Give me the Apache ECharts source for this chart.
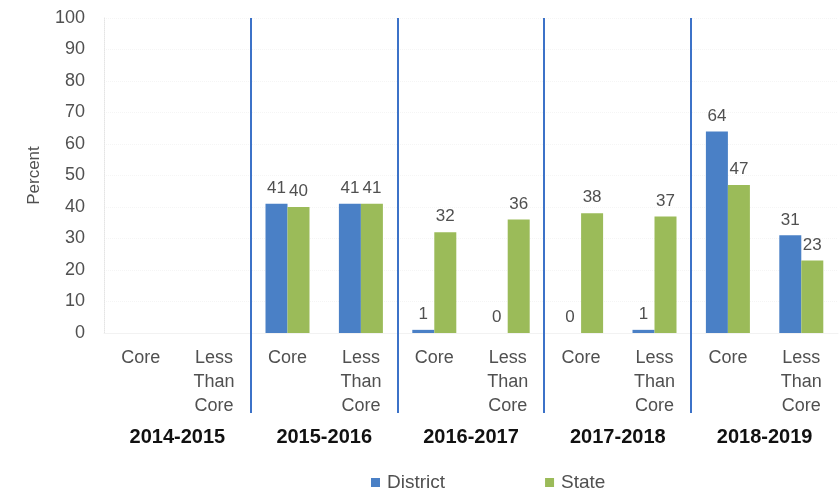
<!DOCTYPE html>
<html><head><meta charset="utf-8">
<script src="https://cdn.jsdelivr.net/npm/echarts@6/dist/echarts.min.js"></script>
<style>html,body{margin:0;padding:0;background:#fff}#c{width:840px;height:489px}</style>
</head><body><div id="c"></div>
<script>
const categories = ['Core','Less\nThan\nCore','Core','Less\nThan\nCore','Core','Less\nThan\nCore','Core','Less\nThan\nCore','Core','Less\nThan\nCore'];
const years = ['2014-2015','2015-2016','2016-2017','2017-2018','2018-2019'];
const district = [null, null, 41, 41, 1, 0, 0, 1, 64, 31];
const state = [null, null, 40, 41, 32, 36, 38, 37, 47, 23];
const yTicks = {min:0, max:100, interval:10};

const chart = echarts.init(document.getElementById('c'));
const font = 'Liberation Sans, Arial, sans-serif';
const lbl = {show:true, position:'top', color:'#505050', fontSize:17, fontFamily:font, distance:7};
chart.setOption({
  animation:false,
  grid:{left:104, right:2, top:18, bottom:156},
  legend:{data:['District','State'], left:366, top:468, itemWidth:9, itemHeight:9, itemGap:100,
    icon:'rect', textStyle:{fontSize:19, color:'#505050', fontFamily:font, padding:[0,0,0,2]}},
  xAxis:[{type:'category', data:categories, position:'bottom',
    axisLine:{show:true, lineStyle:{color:'#f2f2f2'}}, axisTick:{show:false},
    axisLabel:{interval:0, color:'#505050', fontSize:18, fontFamily:font, lineHeight:24, margin:13}},
   {type:'category', data:years, position:'bottom',
    axisLine:{show:false}, axisTick:{show:false},
    axisLabel:{interval:0, color:'#111', fontSize:20, fontWeight:'bold', fontFamily:font, margin:94}}],
  yAxis:{type:'value', min:yTicks.min, max:yTicks.max, interval:yTicks.interval,
    name:'Percent', nameLocation:'middle', nameGap:61, nameRotate:90,
    nameTextStyle:{fontSize:17, color:'#505050', fontFamily:font},
    axisLine:{show:true, lineStyle:{color:'#e4e4e4', type:'dotted'}}, axisTick:{show:false},
    axisLabel:{color:'#505050', fontSize:18, fontFamily:font, margin:19},
    splitLine:{show:true, lineStyle:{color:'#f5f5f5', type:'dotted'}}},
  series:[
    {name:'District', type:'bar', data:district, itemStyle:{color:'#4a80c6'}, barWidth:22, barGap:'0%', label:lbl},
    {name:'State', type:'bar', data:state, itemStyle:{color:'#9bbb59'}, barWidth:22, label:lbl}
  ]
});
// separators between year groups, placed using axis scale
const lines = [];
for (let i = 2; i < categories.length; i += 2) {
  const a = chart.convertToPixel({xAxisIndex:0}, i-1);
  const b = chart.convertToPixel({xAxisIndex:0}, i);
  const x = Math.round((a+b)/2);
  const yTop = chart.convertToPixel({yAxisIndex:0}, yTicks.max);
  const y0 = chart.convertToPixel({yAxisIndex:0}, 0);
  lines.push({type:'line', shape:{x1:x, y1:yTop, x2:x, y2:y0+80}, style:{stroke:'#3c72c8', lineWidth:2}, z:10});
}
chart.setOption({graphic:lines});
</script></body></html>
